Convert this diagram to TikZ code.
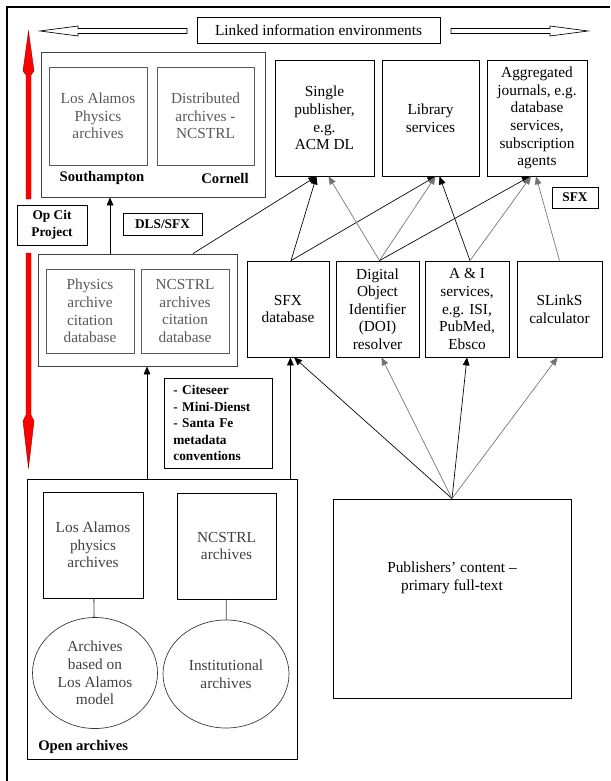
\documentclass[tikz,border=0pt]{standalone}
\usepackage{fontspec}
\setmainfont{Liberation Serif}
\usetikzlibrary{arrows.meta}
\usetikzlibrary{positioning}
\usetikzlibrary{calc}
\usetikzlibrary{shapes.geometric}
\definecolor{mgray}{rgb}{0.35, 0.35, 0.35}

\tikzset{
    box/.style={draw, line width=0.6pt, align=center, inner sep=0pt, font=\fontsize{11.5}{13.2}\selectfont},
    inbox/.style={box, draw=mgray, text=mgray},
    group/.style={draw=black!75, line width=0.6pt, inner sep=0pt},
    tag/.style={draw, line width=0.6pt, align=center, inner sep=0pt, font=\fontsize{10}{12.4}\selectfont\bfseries},
    caption/.style={inner sep=0pt, font=\fontsize{11}{13}\selectfont\bfseries},
    blob/.style={ellipse, draw=black!80, line width=0.5pt, align=center, inner sep=0pt, text=black!75, font=\fontsize{11.5}{13.2}\selectfont},
    link/.style={line width=0.5pt, -{Triangle[length=6pt,width=5pt]}},
    glink/.style={link, draw=black!55},
    hollow/.style={draw, fill=white, line width=0.5pt},
    redarrow/.style={fill=red, draw=red!55!black, line width=0.3pt}
}

\begin{document}
\begin{tikzpicture}[x=0.75pt, y=-0.75pt]
    \useasboundingbox (0,0) rectangle (610,781);
    \draw [line width=0.8pt] (7,781) -- (7,7) -- (610,7);

    % banner
    \node [box, minimum width=182.25pt, minimum height=19.5pt] (banner) at (318.5,30) {Linked information environments};
    \draw [hollow] (187,28.5) -- (78,28.5) -- (78,26) -- (40,31) -- (78,36) -- (78,33.5) -- (187,33.5) -- cycle;
    \draw [hollow] (451,28.5) -- (550,28.5) -- (550,26) -- (588,31) -- (550,36) -- (550,33.5) -- (451,33.5) -- cycle;

    % OpCit side
    \fill [redarrow] (26,199) -- (26,75) -- (23,71) -- (28.5,31) -- (34,71) -- (31,75) -- (31,199) -- cycle;
    \fill [redarrow] (26,253) -- (31,253) -- (31,415) -- (34,421) -- (28.5,468) -- (23,421) -- (26,415) -- cycle;
    \node [tag, minimum width=52.5pt, minimum height=30pt] (opcit) at (52,225) {Op Cit\\Project};

    \node [group, minimum width=168pt, minimum height=108.75pt] (topgroup) at (153,124.5) {};
    \node [inbox, minimum width=73.5pt, minimum height=73.5pt] (lanl) at (98,116) {Los Alamos\\Physics\\archives};
    \node [inbox, minimum width=72.75pt, minimum height=73.5pt] (dist) at (205.5,116) {Distributed\\archives -\\NCSTRL};
    \node [caption] (soton) at (102,178) {Southampton};
    \node [caption] (cornell) at (225,178) {Cornell};

    \node [tag, minimum width=59.25pt, minimum height=16.5pt] (dlssfx) at (162.5,224) {DLS/SFX};

    \node [group, minimum width=149.25pt, minimum height=84pt] (citgroup) at (137.5,310) {};
    \node [inbox, minimum width=66pt, minimum height=63pt] (physcit) at (90,311) {Physics\\archive\\citation\\database};
    \node [inbox, minimum width=66pt, minimum height=63pt] (ncscit) at (185,311) {NCSTRL\\archives\\citation\\database};

    \node [tag, minimum width=81pt, minimum height=67.5pt, text width=67pt, align=left] (citeseer) at (218,423) {- Citeseer\\- Mini-Dienst\\- Santa Fe\\metadata\\conventions};

    % open archives
    \node [draw, line width=0.6pt, minimum width=202.5pt, minimum height=210pt, inner sep=0pt] (openarch) at (162,619) {};
    \node [box, text=black!75, minimum width=75pt, minimum height=79.5pt] (lanlarch) at (93,545) {Los Alamos\\physics\\archives};
    \node [box, text=black!75, minimum width=74.25pt, minimum height=79.5pt] (ncsarch) at (226.5,546) {NCSTRL\\archives};
    \node [blob, minimum width=93.75pt, minimum height=83.25pt] (lamodel) at (95,673) {Archives\\based on\\Los Alamos\\model};
    \node [blob, minimum width=94.5pt, minimum height=81pt] (instarch) at (226,674) {Institutional\\archives};
    \node [caption, anchor=west] (oalabel) at (38,747) {Open archives};
    \draw [line width=0.6pt, draw=black!75] (lanlarch) -- (lamodel);
    \draw [line width=0.6pt, draw=black!75] (ncsarch) -- (instarch);

    % services
    \node [box, minimum width=74.25pt, minimum height=87pt] (single) at (324.5,118) {Single\\publisher,\\e.g.\\ACM DL};
    \node [box, minimum width=72.75pt, minimum height=87pt] (library) at (430.5,118) {Library\\services};
    \node [box, minimum width=75pt, minimum height=87pt] (aggr) at (537,118) {Aggregated\\journals, e.g.\\database\\services,\\subscription\\agents};
    \node [tag, minimum width=34.5pt, minimum height=15.75pt] (sfxtag) at (575,197.5) {SFX};

    \node [box, minimum width=61.5pt, minimum height=72pt] (sfxdb) at (288,309) {SFX\\database};
    \node [box, minimum width=62.25pt, minimum height=72pt] (doi) at (377.5,309) {Digital\\Object\\Identifier\\(DOI)\\resolver};
    \node [box, minimum width=63pt, minimum height=72pt] (ai) at (467,309) {A \& I\\services,\\e.g. ISI,\\PubMed,\\Ebsco};
    \node [box, minimum width=63.75pt, minimum height=72pt] (slinks) at (559.5,309) {SLinkS\\calculator};

    \node [box, minimum width=178.5pt, minimum height=149.25pt] (publ) at (452,598.5) {};
    \node [inner sep=0pt, align=center, font=\fontsize{11.5}{13.2}\selectfont] (publtext) at (452,578) {Publishers’ content –\\primary full-text};

    % links up
    \coordinate (citout) at ($(citgroup.north)+(55.5,0)$);
    \coordinate (citup) at ($(citgroup.north)+(-27.5,0)$);
    \coordinate (oaleft) at ($(openarch.north)+(-15,0)$);
    \coordinate (oaright) at ($(openarch.north east)+(-7,0)$);

    \draw [link] (citup) -- (citup |- topgroup.south);
    \draw [link] (oaleft) -- (oaleft |- citgroup.south);
    \draw [link] (oaright) -- (oaright |- sfxdb.south);

    \draw [link] (citout) -- ($(single.south)+(-8,0)$);
    \draw [link] ($(sfxdb.north)+(3,0)$) -- ($(single.south)+(-8,0)$);
    \draw [link] ($(sfxdb.north)+(3,0)$) -- ($(library.south)+(5,0)$);
    \draw [glink] ($(doi.north)+(2,0)$) -- ($(single.south)+(4,0)$);
    \draw [glink] ($(doi.north)+(2,0)$) -- ($(library.south)+(5,0)$);
    \draw [link] ($(doi.north)+(2,0)$) -- ($(aggr.south)+(-7,0)$);
    \draw [link] ($(ai.north)+(3,0)$) -- ($(library.south)+(9,0)$);
    \draw [glink] ($(ai.north)+(3,0)$) -- ($(aggr.south)+(-6,0)$);
    \draw [glink] (slinks.north) -- ($(aggr.south)+(-1,0)$);

    \draw [link] (publ.north) -- ($(sfxdb.south)+(6,0)$);
    \draw [glink] (publ.north) -- ($(doi.south)+(4,0)$);
    \draw [link] (publ.north) -- (ai.south);
    \draw [glink] (publ.north) -- ($(slinks.south)+(-2,0)$);
\end{tikzpicture}
\end{document}
